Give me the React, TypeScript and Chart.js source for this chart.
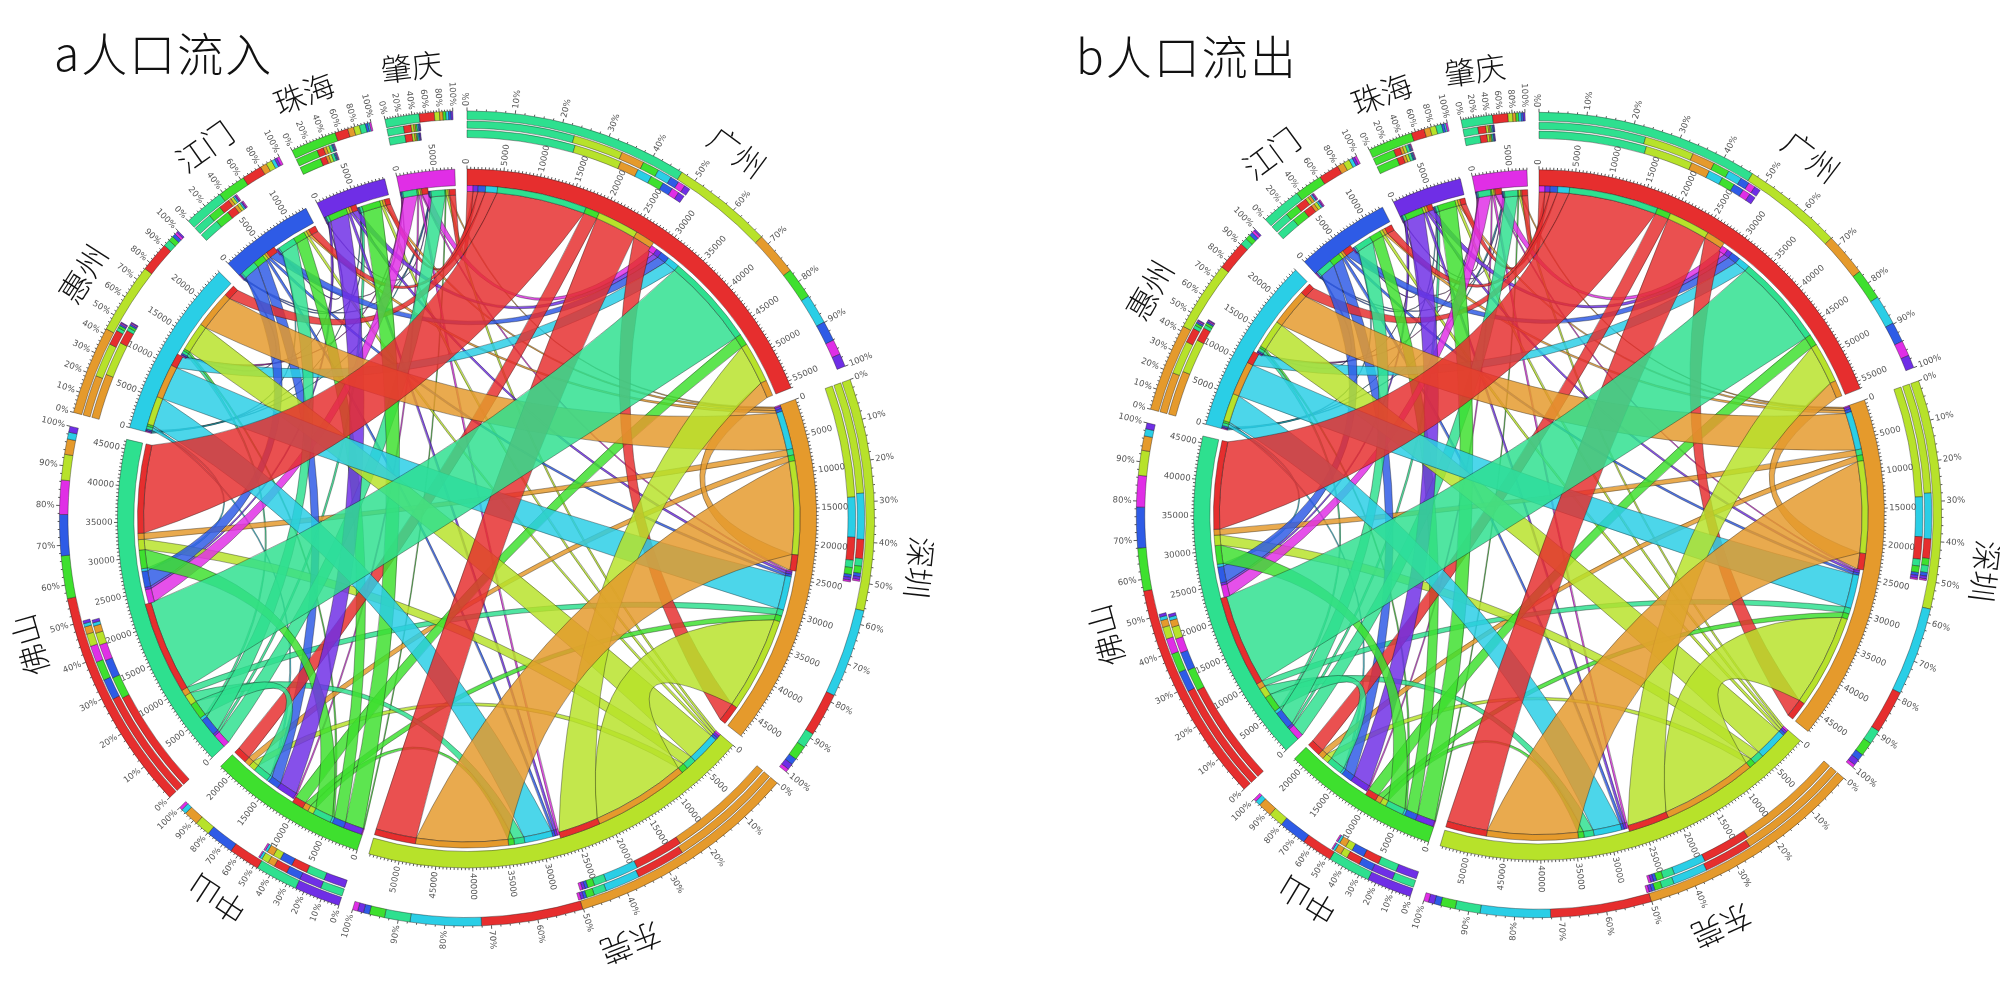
import React, { useEffect, useRef } from "react";
import { Chart, registerables } from "chart.js";

Chart.register(...registerables);

const cities = ["广州", "深圳", "东莞", "中山", "佛山", "惠州", "江门", "珠海", "肇庆"];
const colors = ["#E62E2E", "#E59A2C", "#B7E22A", "#3EE02E", "#2EE08F", "#2ACEE6", "#2E5BE6", "#6F2EE6", "#E02EE6"];
const chordFill = ["rgba(230,46,46,.84)", "rgba(229,154,44,.84)", "rgba(183,226,42,.84)", "rgba(62,224,46,.84)", "rgba(46,224,143,.84)", "rgba(42,206,230,.84)", "rgba(46,91,230,.84)", "rgba(111,46,230,.84)", "rgba(224,46,230,.84)"];

// flows: row = origin, columns in the order of `cities`
const inGz = [0, 2800, 6000, 2000, 12900, 1700, 1060, 720, 870];
const inSz = [2300, 0, 13400, 850, 900, 5500, 400, 350, 200];
const inDg = [5900, 13800, 0, 950, 1500, 4200, 350, 350, 300];
const inZs = [1650, 850, 850, 0, 2700, 300, 1740, 2700, 150];
const inFs = [13300, 900, 1500, 2300, 0, 400, 2500, 350, 2000];
const inHz = [1800, 4900, 4100, 300, 400, 0, 200, 100, 150];
const inJm = [1300, 350, 350, 1570, 2300, 200, 0, 150, 150];
const inZh = [800, 350, 350, 2700, 350, 100, 150, 0, 100];
const inZq = [900, 200, 300, 200, 2000, 150, 150, 100, 0];

const outGz = [0, 2750, 6000, 2000, 12900, 1700, 1080, 760, 850];
const outSz = [2350, 0, 13300, 850, 850, 5500, 420, 350, 180];
const outDg = [5900, 13700, 0, 900, 1500, 4200, 380, 350, 280];
const outZs = [1650, 800, 850, 0, 2700, 300, 1700, 2650, 150];
const outFs = [13300, 850, 1450, 2350, 0, 420, 2500, 350, 1900];
const outHz = [1800, 4900, 4050, 300, 420, 0, 220, 100, 150];
const outJm = [1300, 350, 380, 1600, 2300, 200, 0, 150, 120];
const outZh = [780, 350, 350, 2650, 350, 100, 150, 0, 100];
const outZq = [950, 180, 280, 180, 1800, 150, 130, 100, 0];

const matrixA = [inGz, inSz, inDg, inZs, inFs, inHz, inJm, inZh, inZq];
const matrixB = [outGz, outSz, outDg, outZs, outFs, outHz, outJm, outZh, outZq];

const nameAnglesA = [36.4, 96.2, 158.9, 213.3, 253.9, 302.5, 324.8, 339, 353];
const nameAnglesB = [37.2, 97.2, 156, 211, 254.5, 300, 323.5, 339.5, 351.8];

const GAP_DEG = 2;
const TAU = Math.PI * 2;
const partnerOrder = [8, 7, 6, 5, 4, 3, 2, 1, 0];
const pctStep = [10, 10, 10, 10, 10, 10, 20, 20, 20];
// control-point radius (share of ring radius) against the angle spanned by a ribbon edge
const bendDeg = [0, 15, 30, 60, 100, 140, 180];
const bendRad = [0.6, 0.55, 0.5, 0.42, 0.35, 0.15, 0];

function bend(d: number) {
  const deg = (d * 180) / Math.PI;
  for (let i = 1; i < bendDeg.length; i++) {
    if (deg <= bendDeg[i]) {
      const t = (deg - bendDeg[i - 1]) / (bendDeg[i] - bendDeg[i - 1]);
      return bendRad[i - 1] + t * (bendRad[i] - bendRad[i - 1]);
    }
  }
  return 0;
}

function layout(m: number[][]) {
  const n = m.length;
  const outT = m.map((r) => r.reduce((a, b) => a + b, 0));
  const inT = m.map((_, i) => m.reduce((a, r) => a + r[i], 0));
  const tot = outT.map((v, i) => v + inT[i]);
  const grand = tot.reduce((a, b) => a + b, 0);
  const gapU = (grand * GAP_DEG) / (360 - n * GAP_DEG);
  const k = TAU / (grand + n * gapU);
  const start: number[] = [];
  let u = 0;
  tot.forEach((t) => {
    start.push(u);
    u += t + gapU;
  });
  const outPos: number[][] = m.map(() => Array(n).fill(0));
  const inPos: number[][] = m.map(() => Array(n).fill(0));
  for (let i = 0; i < n; i++) {
    let p = start[i];
    for (const j of partnerOrder) {
      outPos[i][j] = p;
      p += m[i][j];
    }
    for (const j of partnerOrder) {
      inPos[i][j] = p;
      p += m[j][i];
    }
  }
  return { n, outT, inT, tot, grand, gapU, k, start, outPos, inPos };
}

type Seg = { v: number; c: string | null };

function makeRing(segs: Seg[], ri: number, ro: number, bw: number) {
  return {
    data: segs.map((s) => s.v),
    backgroundColor: segs.map((s) => s.c || "rgba(0,0,0,0)"),
    borderColor: segs.map((s) => (s.c ? "rgba(20,20,20,.75)" : "rgba(0,0,0,0)")),
    borderWidth: segs.map((s) => (s.c ? bw : 0)),
    ri,
    ro,
  };
}

function buildRings(m: number[][], L: ReturnType<typeof layout>, s: number) {
  const { n, tot, gapU } = L;
  const range = [...Array(n).keys()];
  const main: Seg[] = [];
  const outStub: Seg[] = [];
  const inStub: Seg[] = [];
  const trackAll: Seg[] = [];
  const trackOut: Seg[] = [];
  const trackIn: Seg[] = [];
  const desc = (f: (j: number) => number, i: number) =>
    range.filter((j) => j !== i && f(j) > 0).sort((a, b) => f(b) - f(a));
  for (let i = 0; i < n; i++) {
    main.push({ v: tot[i], c: colors[i] }, { v: gapU, c: null });
    for (const j of partnerOrder) if (j !== i) outStub.push({ v: m[i][j], c: colors[j] });
    outStub.push({ v: L.inT[i] + gapU, c: null });
    inStub.push({ v: L.outT[i], c: null });
    for (const j of partnerOrder) if (j !== i) inStub.push({ v: m[j][i], c: colors[j] });
    inStub.push({ v: gapU, c: null });
    desc((j) => m[i][j] + m[j][i], i).forEach((j) => trackAll.push({ v: m[i][j] + m[j][i], c: colors[j] }));
    trackAll.push({ v: gapU, c: null });
    desc((j) => m[i][j], i).forEach((j) => trackOut.push({ v: m[i][j], c: colors[j] }));
    trackOut.push({ v: L.inT[i] + gapU, c: null });
    desc((j) => m[j][i], i).forEach((j) => trackIn.push({ v: m[j][i], c: colors[j] }));
    trackIn.push({ v: L.outT[i] + gapU, c: null });
  }
  return [
    makeRing(inStub, 323.5 * s, 329.5 * s, 0.5),
    makeRing(outStub, 327 * s, 333 * s, 0.5),
    makeRing(main, 333 * s, 349.5 * s, 0.5),
    makeRing(trackIn, 381 * s, 388.6 * s, 0.5),
    makeRing(trackOut, 390.3 * s, 397.6 * s, 0.5),
    makeRing(trackAll, 399 * s, 407.6 * s, 0.5),
  ];
}

function chordPlugin(m: number[][], L: ReturnType<typeof layout>, s: number, nameAngles: number[]) {
  const radial = (ctx: CanvasRenderingContext2D, cx: number, cy: number, th: number, r0: number, r1: number) => {
    ctx.moveTo(cx + r0 * Math.sin(th), cy - r0 * Math.cos(th));
    ctx.lineTo(cx + r1 * Math.sin(th), cy - r1 * Math.cos(th));
  };
  const labelAt = (ctx: CanvasRenderingContext2D, cx: number, cy: number, th: number, r: number, text: string) => {
    ctx.save();
    ctx.translate(cx + r * Math.sin(th), cy - r * Math.cos(th));
    if (th <= Math.PI) {
      ctx.rotate(th - Math.PI / 2);
      ctx.textAlign = "left";
    } else {
      ctx.rotate(th + Math.PI / 2);
      ctx.textAlign = "right";
    }
    ctx.textBaseline = "middle";
    ctx.fillText(text, 0, 0);
    ctx.restore();
  };
  return {
    id: "chords",
    afterDatasetsUpdate(chart: any) {
      chart.data.datasets.forEach((d: any, i: number) => {
        chart.getDatasetMeta(i).data.forEach((a: any) => {
          a.innerRadius = d.ri;
          a.outerRadius = d.ro;
        });
      });
    },
    beforeDatasetsDraw(chart: any) {
      const ctx: CanvasRenderingContext2D = chart.ctx;
      const cx = (chart.chartArea.left + chart.chartArea.right) / 2;
      const cy = (chart.chartArea.top + chart.chartArea.bottom) / 2;
      const rOut = 327 * s;
      const rIn = 323.5 * s;
      const list: [number, number][] = [];
      for (let i = 0; i < L.n; i++) for (let j = 0; j < L.n; j++) if (m[i][j] > 0) list.push([i, j]);
      list.sort((a, b) => m[a[0]][a[1]] - m[b[0]][b[1]]);
      const ctrl = (t0: number, t1: number) => {
        let d = Math.abs(t0 - t1) % TAU;
        let mid = (t0 + t1) / 2;
        if (d > Math.PI) {
          d = TAU - d;
          mid += Math.PI;
        }
        const c = rOut * bend(d);
        return [cx + c * Math.sin(mid), cy - c * Math.cos(mid)];
      };
      ctx.save();
      for (const [i, j] of list) {
        const v = m[i][j];
        const a0 = L.outPos[i][j] * L.k;
        const a1 = (L.outPos[i][j] + v) * L.k;
        const b0 = L.inPos[j][i] * L.k;
        const b1 = (L.inPos[j][i] + v) * L.k;
        ctx.beginPath();
        ctx.arc(cx, cy, rOut, a0 - Math.PI / 2, a1 - Math.PI / 2);
        let q = ctrl(a1, b0);
        ctx.quadraticCurveTo(q[0], q[1], cx + rIn * Math.sin(b0), cy - rIn * Math.cos(b0));
        ctx.arc(cx, cy, rIn, b0 - Math.PI / 2, b1 - Math.PI / 2);
        q = ctrl(b1, a0);
        ctx.quadraticCurveTo(q[0], q[1], cx + rOut * Math.sin(a0), cy - rOut * Math.cos(a0));
        ctx.closePath();
        ctx.fillStyle = chordFill[i];
        ctx.fill();
        ctx.lineWidth = 0.5;
        ctx.strokeStyle = "rgba(20,20,20,.75)";
        ctx.stroke();
      }
      ctx.restore();
    },
    afterDatasetsDraw(chart: any) {
      const ctx: CanvasRenderingContext2D = chart.ctx;
      const cx = (chart.chartArea.left + chart.chartArea.right) / 2;
      const cy = (chart.chartArea.top + chart.chartArea.bottom) / 2;
      ctx.save();
      ctx.strokeStyle = "#111";
      ctx.lineWidth = 0.7;
      ctx.fillStyle = "#555";
      ctx.font = "8.5px 'DejaVu Sans'";
      const R1 = 349.5 * s;
      const R2 = 407.6 * s;
      for (let i = 0; i < L.n; i++) {
        const st = L.start[i];
        const total = L.tot[i];
        ctx.beginPath();
        for (let u = 0; u <= total; u += 500) radial(ctx, cx, cy, (st + u) * L.k, R1, R1 + (u % 5000 === 0 ? 3.5 : 2.2));
        const step = pctStep[i];
        for (let p = 0; p <= 100; p += step / 5) {
          radial(ctx, cx, cy, (st + (total * p) / 100) * L.k, R2, R2 + (p % step === 0 ? 3.5 : 1.8));
        }
        ctx.stroke();
        for (let u = 0; u <= total; u += 5000) labelAt(ctx, cx, cy, (st + u) * L.k, R1 + 5, String(u));
        for (let p = 0; p <= 100; p += step) labelAt(ctx, cx, cy, (st + (total * p) / 100) * L.k, R2 + 5, p + "%");
      }
      ctx.fillStyle = "#111";
      ctx.font = "300 " + Math.round(31 * s) + "px 'Noto Sans CJK SC'";
      ctx.textAlign = "center";
      ctx.textBaseline = "middle";
      for (let i = 0; i < L.n; i++) {
        const th = (nameAngles[i] * Math.PI) / 180;
        ctx.save();
        ctx.translate(cx + 455 * s * Math.sin(th), cy - 455 * s * Math.cos(th));
        ctx.rotate(th);
        ctx.fillText(cities[i], 0, 0);
        ctx.restore();
      }
      ctx.restore();
    },
  };
}

function Panel({ matrix, left, top, w, h, scale, nameAngles }: { matrix: number[][]; left: number; top: number; w: number; h: number; scale: number; nameAngles: number[] }) {
  const ref = useRef<HTMLCanvasElement>(null);
  useEffect(() => {
    const L = layout(matrix);
    const chart = new Chart(ref.current as HTMLCanvasElement, {
      type: "doughnut",
      data: { labels: [], datasets: buildRings(matrix, L, scale) as any },
      options: {
        responsive: false,
        animation: false,
        events: [],
        rotation: 0,
        circumference: 360,
        layout: { padding: 0 },
        plugins: { legend: { display: false }, tooltip: { enabled: false }, title: { display: false } },
      },
      plugins: [chordPlugin(matrix, L, scale, nameAngles)],
    } as any);
    return () => chart.destroy();
  }, [matrix, scale, nameAngles]);
  return <canvas ref={ref} width={w} height={h} style={{ position: "absolute", left, top, width: w, height: h }} />;
}

const titleStyle: React.CSSProperties = {
  position: "absolute",
  fontFamily: "'Noto Sans CJK SC'",
  fontWeight: 300,
  fontSize: 46,
  lineHeight: "60px",
  color: "#111",
  letterSpacing: 2,
  whiteSpace: "nowrap",
};

export default function App() {
  return (
    <div style={{ position: "absolute", left: 0, top: 0, width: 2000, height: 1008, overflow: "hidden", background: "#fff" }}>
      <Panel matrix={matrixA} left={0} top={28} w={934} h={981} scale={1} nameAngles={nameAnglesA} />
      <Panel matrix={matrixB} left={1078} top={25} w={922} h={980} scale={0.988} nameAngles={nameAnglesB} />
      <div style={{ ...titleStyle, left: 54, top: 21 }}>a人口流入</div>
      <div style={{ ...titleStyle, left: 1076, top: 24 }}>b人口流出</div>
    </div>
  );
}
